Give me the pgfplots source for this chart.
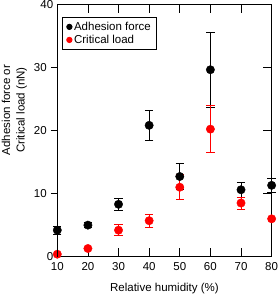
\documentclass[border=0pt]{standalone}
\usepackage{pgfplots}
\pgfplotsset{compat=1.18}
\usepackage{fontspec}
\setmainfont{Liberation Sans}
\definecolor{pred}{RGB}{255,0,0}
\begin{document}
\fontsize{11.5}{14}\selectfont
\begin{tikzpicture}
\path (-57.3pt,-39.3pt) (220.7pt,256.7pt);
\begin{axis}[
  at={(0,0)}, anchor=south west,
  scale only axis, width=214.4pt, height=252.7pt,
  xmin=10, xmax=80, ymin=0, ymax=40,
  xtick={10,20,...,80}, ytick={0,10,20,30,40},
  tick align=inside, ytick pos=right,
  yticklabels={},
  major tick length=9pt,
  tick style={black, line width=0.8pt},
  axis line style={line width=0.8pt},
  xlabel={Relative humidity (\%)},
  xlabel style={at={(axis description cs:0.5,0)}, anchor=center, yshift=-32.3pt, inner sep=0pt},
  xticklabel style={anchor=center, yshift=-10.3pt, inner sep=0pt},
  /pgf/number format/assume math mode=true,
  ticklabel style={font=\fontsize{11.5}{14}\selectfont},
  label style={font=\fontsize{11.5}{14}\selectfont},
  clip=false,
  legend style={at={(axis description cs:0.0233,0.947)}, anchor=north west,
    draw=black, line width=0.8pt, font=\fontsize{11.5}{14}\selectfont,
    row sep=-1pt, inner xsep=4pt, inner ysep=2pt},
  legend cell align=left,
  legend image post style={mark size=2.7pt},
]
\addplot[only marks, mark=*, mark size=4.2pt, black,
  error bars/.cd, y dir=both, y explicit, error mark options={rotate=90, mark size=4.2pt, line width=0.8pt}, error bar style={line width=0.8pt}]
  coordinates {
  (10,4.2) +- (0,0.6)
  (20,5.0) +- (0,0.4)
  (30,8.3) +- (0,0.95)
  (40,20.8) +- (0,2.4)
  (50,12.7) +- (0,2.0)
  (60,29.6) +- (0,5.9)
  (70,10.6) +- (0,1.2)
  (80,11.3) +- (0,1.05)
  };
\addlegendentry{Adhesion force}
\addplot[only marks, mark=*, mark size=4.2pt, pred, mark options={fill=pred},
  error bars/.cd, y dir=both, y explicit, error mark options={rotate=90, mark size=4.2pt, line width=0.8pt}, error bar style={line width=0.8pt}]
  coordinates {
  (30,4.2) +- (0,0.85)
  (40,5.7) +- (0,1.05)
  (50,11.0) +- (0,2.0)
  (60,20.2) +- (0,3.7)
  (70,8.5) +- (0,0.95)
  };
\addlegendentry{Critical load}
\addplot[only marks, mark=*, mark size=4.2pt, pred, mark options={fill=pred}, forget plot]
  coordinates {
  (10,0.4)
  (20,1.3)
  (80,6.0)
  };
\end{axis}
\begin{axis}[
  at={(0,0)}, anchor=south west,
  scale only axis, width=214.4pt, height=252.7pt,
  xmin=10, xmax=80, ymin=0, ymax=40,
  axis x line=none, axis y line*=left,
  ytick={10,20,30},
  extra y ticks={0,40},
  extra y tick style={major tick length=0pt},
  tick align=outside,
  major tick length=6.5pt,
  tick style={black, line width=0.8pt},
  axis line style={line width=0.8pt},
  yticklabel style={inner ysep=0pt},
  ylabel={Adhesion force or\\Critical load (nN)},
  ylabel style={at={(axis description cs:-0.1996,0.5805)}, anchor=center, rotate=0, align=center, inner sep=0pt, font=\fontsize{11.5}{14.5}\selectfont},
  ticklabel style={font=\fontsize{11.5}{14}\selectfont},
  /pgf/number format/assume math mode=true,
]
\end{axis}
\end{tikzpicture}
\end{document}
